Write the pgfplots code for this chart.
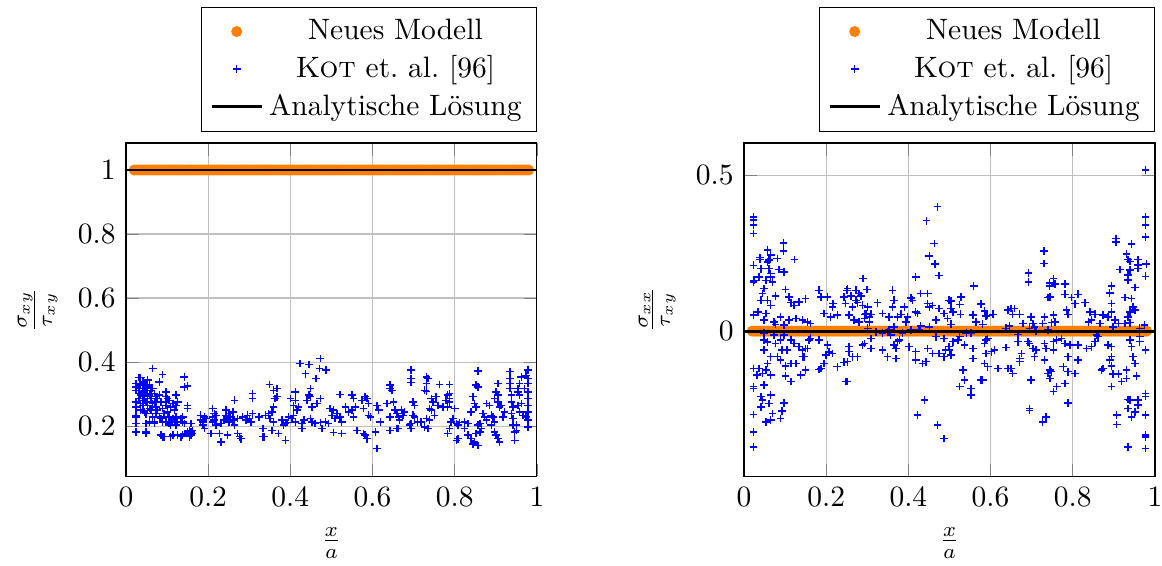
\documentclass[border=0pt]{standalone}
\usepackage{pgfplots}
\pgfplotsset{compat=1.18}
\begin{document}
\begin{tikzpicture}
\pgfplotsset{
  myax/.style={
    scale only axis, width=139.3pt, height=112.9pt,
    xmin=0, xmax=1, enlargelimits=false,
    clip mode=individual,
    grid=major,
    xtick={0,0.2,0.4,0.6,0.8,1},
    xticklabels={0,0.2,0.4,0.6,0.8,1},
    xlabel={$\frac{x}{a}$},
    legend cell align=center,
    legend style={at={(1,1.033)}, anchor=south east, draw=black},
  },
  orangemk/.style={only marks, mark=*, mark size=1.65pt, color=orange},
  bluemk/.style={only marks, mark=+, mark size=1.3pt, color=blue, mark options={line width=0.5pt}},
}
\begin{axis}[myax, name=leftax, ymin=0.044, ymax=1.084,
  ytick={0.2,0.4,0.6,0.8,1}, yticklabels={0.2,0.4,0.6,0.8,1},
  ylabel={$\frac{\sigma_{xy}}{\tau_{xy}}$}]
\addplot[orangemk] coordinates {
(0.020,1)(0.025,1)(0.030,1)(0.035,1)(0.040,1)(0.045,1)(0.050,1)(0.055,1)(0.060,1)(0.065,1)(0.070,1)(0.075,1)(0.080,1)(0.085,1)(0.090,1)(0.095,1)(0.100,1)(0.105,1)(0.110,1)(0.115,1)
(0.120,1)(0.125,1)(0.130,1)(0.135,1)(0.140,1)(0.145,1)(0.150,1)(0.155,1)(0.160,1)(0.165,1)(0.170,1)(0.175,1)(0.180,1)(0.185,1)(0.190,1)(0.195,1)(0.200,1)(0.205,1)(0.210,1)(0.215,1)
(0.220,1)(0.225,1)(0.230,1)(0.235,1)(0.240,1)(0.245,1)(0.250,1)(0.255,1)(0.260,1)(0.265,1)(0.270,1)(0.275,1)(0.280,1)(0.285,1)(0.290,1)(0.295,1)(0.300,1)(0.305,1)(0.310,1)(0.315,1)
(0.320,1)(0.325,1)(0.330,1)(0.335,1)(0.340,1)(0.345,1)(0.350,1)(0.355,1)(0.360,1)(0.365,1)(0.370,1)(0.375,1)(0.380,1)(0.385,1)(0.390,1)(0.395,1)(0.400,1)(0.405,1)(0.410,1)(0.415,1)
(0.420,1)(0.425,1)(0.430,1)(0.435,1)(0.440,1)(0.445,1)(0.450,1)(0.455,1)(0.460,1)(0.465,1)(0.470,1)(0.475,1)(0.480,1)(0.485,1)(0.490,1)(0.495,1)(0.500,1)(0.505,1)(0.510,1)(0.515,1)
(0.520,1)(0.525,1)(0.530,1)(0.535,1)(0.540,1)(0.545,1)(0.550,1)(0.555,1)(0.560,1)(0.565,1)(0.570,1)(0.575,1)(0.580,1)(0.585,1)(0.590,1)(0.595,1)(0.600,1)(0.605,1)(0.610,1)(0.615,1)
(0.620,1)(0.625,1)(0.630,1)(0.635,1)(0.640,1)(0.645,1)(0.650,1)(0.655,1)(0.660,1)(0.665,1)(0.670,1)(0.675,1)(0.680,1)(0.685,1)(0.690,1)(0.695,1)(0.700,1)(0.705,1)(0.710,1)(0.715,1)
(0.720,1)(0.725,1)(0.730,1)(0.735,1)(0.740,1)(0.745,1)(0.750,1)(0.755,1)(0.760,1)(0.765,1)(0.770,1)(0.775,1)(0.780,1)(0.785,1)(0.790,1)(0.795,1)(0.800,1)(0.805,1)(0.810,1)(0.815,1)
(0.820,1)(0.825,1)(0.830,1)(0.835,1)(0.840,1)(0.845,1)(0.850,1)(0.855,1)(0.860,1)(0.865,1)(0.870,1)(0.875,1)(0.880,1)(0.885,1)(0.890,1)(0.895,1)(0.900,1)(0.905,1)(0.910,1)(0.915,1)
(0.920,1)(0.925,1)(0.930,1)(0.935,1)(0.940,1)(0.945,1)(0.950,1)(0.955,1)(0.960,1)(0.965,1)(0.970,1)(0.975,1)(0.980,1)
};
\addlegendentry{Neues Modell}
\addplot[bluemk] coordinates {
(0.024,0.333)(0.024,0.323)(0.024,0.312)(0.024,0.276)(0.024,0.260)(0.024,0.234)(0.024,0.229)(0.024,0.208)(0.024,0.182)
(0.032,0.352)(0.032,0.318)(0.032,0.302)(0.032,0.286)
(0.036,0.352)(0.036,0.328)(0.036,0.297)(0.036,0.271)(0.036,0.250)
(0.041,0.338)(0.041,0.312)(0.041,0.292)(0.041,0.265)
(0.045,0.333)(0.045,0.307)(0.045,0.281)(0.045,0.245)
(0.049,0.323)(0.049,0.302)(0.049,0.276)(0.049,0.239)(0.049,0.208)(0.049,0.182)(0.049,0.177)
(0.053,0.344)(0.053,0.318)(0.053,0.292)(0.053,0.265)
(0.057,0.328)(0.057,0.297)(0.057,0.255)(0.057,0.213)
(0.061,0.312)(0.061,0.286)(0.061,0.250)
(0.065,0.380)(0.065,0.318)(0.065,0.271)(0.065,0.229)
(0.069,0.302)(0.069,0.276)(0.069,0.213)(0.069,0.208)
(0.073,0.292)(0.073,0.260)(0.073,0.239)
(0.077,0.286)(0.077,0.250)
(0.081,0.338)(0.081,0.297)(0.081,0.229)
(0.085,0.276)(0.085,0.224)(0.085,0.172)
(0.089,0.361)(0.089,0.255)(0.089,0.213)(0.089,0.167)
(0.093,0.239)(0.093,0.167)
(0.097,0.307)(0.097,0.292)(0.097,0.276)(0.097,0.265)(0.097,0.213)
(0.101,0.286)(0.101,0.245)
(0.105,0.281)(0.105,0.229)(0.105,0.208)
(0.109,0.260)(0.109,0.213)(0.109,0.203)(0.109,0.167)
(0.114,0.271)(0.114,0.224)(0.114,0.172)
(0.118,0.250)(0.118,0.219)
(0.122,0.297)(0.122,0.265)(0.122,0.229)(0.122,0.203)
(0.126,0.276)(0.126,0.213)(0.126,0.172)
(0.134,0.224)(0.134,0.167)
(0.138,0.229)(0.138,0.213)(0.138,0.172)
(0.142,0.354)(0.142,0.323)(0.142,0.208)(0.142,0.177)
(0.150,0.326)(0.150,0.265)(0.150,0.255)(0.150,0.182)
(0.154,0.187)(0.154,0.177)(0.154,0.167)
(0.158,0.208)(0.158,0.182)(0.158,0.172)
(0.162,0.187)(0.162,0.177)
(0.182,0.234)(0.182,0.219)(0.187,0.213)(0.187,0.203)(0.191,0.229)(0.191,0.193)(0.195,0.224)
(0.207,0.177)(0.211,0.255)(0.211,0.229)(0.211,0.213)(0.215,0.219)(0.215,0.239)(0.219,0.234)(0.219,0.203)
(0.227,0.177)(0.231,0.151)(0.231,0.208)
(0.239,0.219)(0.243,0.250)(0.243,0.234)(0.247,0.224)(0.247,0.172)(0.251,0.213)(0.251,0.239)(0.255,0.229)(0.260,0.219)(0.260,0.245)(0.264,0.281)(0.264,0.203)
(0.272,0.177)(0.276,0.167)(0.280,0.161)(0.272,0.224)
(0.284,0.229)(0.292,0.219)(0.296,0.234)(0.300,0.224)(0.304,0.213)(0.308,0.239)(0.308,0.302)(0.308,0.286)
(0.324,0.229)(0.333,0.193)(0.333,0.167)
(0.423,0.396)(0.445,0.393)(0.473,0.411)(0.471,0.380)(0.487,0.375)(0.437,0.364)(0.462,0.349)
(0.349,0.330)
(0.367,0.318)(0.359,0.312)(0.363,0.286)(0.367,0.292)(0.359,0.260)(0.355,0.245)(0.347,0.239)(0.351,0.224)(0.359,0.213)
(0.339,0.234)(0.337,0.167)
(0.412,0.307)(0.412,0.281)(0.400,0.286)(0.408,0.265)(0.420,0.260)(0.416,0.250)(0.408,0.234)(0.396,0.229)(0.404,0.224)(0.412,0.213)
(0.449,0.318)(0.445,0.297)(0.449,0.292)(0.441,0.281)(0.453,0.260)(0.465,0.271)(0.473,0.286)
(0.380,0.219)(0.388,0.208)(0.392,0.211)(0.384,0.203)
(0.355,0.187)(0.371,0.177)(0.388,0.156)
(0.428,0.208)(0.433,0.219)(0.428,0.193)(0.449,0.224)(0.453,0.213)(0.460,0.208)(0.473,0.211)(0.477,0.193)(0.485,0.213)(0.493,0.208)
(0.497,0.255)(0.505,0.250)(0.501,0.234)(0.509,0.224)(0.513,0.239)(0.521,0.229)(0.525,0.213)(0.521,0.299)
(0.505,0.180)(0.525,0.177)(0.534,0.260)(0.542,0.245)(0.550,0.250)(0.554,0.286)(0.550,0.297)(0.558,0.260)(0.554,0.229)(0.562,0.187)
(0.574,0.281)(0.578,0.255)(0.582,0.292)(0.586,0.286)(0.590,0.271)(0.590,0.234)(0.595,0.229)(0.578,0.177)(0.582,0.172)(0.586,0.161)
(0.611,0.265)(0.615,0.250)(0.607,0.182)(0.611,0.130)(0.619,0.213)
(0.635,0.271)(0.643,0.328)(0.643,0.318)(0.647,0.312)(0.651,0.276)(0.643,0.229)(0.655,0.250)(0.659,0.239)(0.663,0.229)(0.643,0.187)(0.659,0.193)
(0.694,0.375)(0.694,0.349)(0.694,0.336)
(0.731,0.354)(0.735,0.349)(0.731,0.333)(0.727,0.312)(0.731,0.309)
(0.763,0.330)(0.787,0.330)
(0.787,0.302)(0.783,0.297)(0.787,0.286)(0.779,0.281)(0.783,0.260)(0.787,0.276)
(0.743,0.286)(0.747,0.276)(0.739,0.255)(0.743,0.250)(0.751,0.234)(0.759,0.265)(0.771,0.260)(0.755,0.292)
(0.698,0.276)(0.702,0.265)(0.698,0.234)(0.702,0.229)(0.694,0.208)(0.690,0.203)(0.694,0.193)
(0.670,0.250)(0.674,0.234)(0.678,0.245)(0.666,0.219)(0.662,0.193)
(0.710,0.213)(0.718,0.213)(0.727,0.198)(0.735,0.193)(0.739,0.219)(0.731,0.224)
(0.800,0.255)(0.796,0.224)(0.791,0.213)(0.787,0.193)(0.783,0.177)(0.804,0.208)(0.808,0.203)(0.812,0.211)(0.824,0.213)(0.832,0.208)(0.824,0.193)
(0.808,0.161)(0.804,0.156)(0.832,0.172)(0.840,0.161)(0.848,0.151)(0.857,0.140)(0.844,0.144)
(0.844,0.292)(0.848,0.271)(0.852,0.260)(0.840,0.245)(0.852,0.328)(0.857,0.323)(0.857,0.372)
(0.857,0.203)(0.861,0.208)(0.865,0.193)(0.861,0.182)(0.852,0.177)(0.877,0.271)(0.885,0.265)(0.869,0.239)(0.873,0.229)
(0.877,0.219)(0.889,0.234)(0.893,0.229)(0.897,0.213)(0.889,0.203)(0.897,0.182)(0.901,0.172)(0.905,0.161)(0.909,0.151)
(0.905,0.333)(0.901,0.307)(0.905,0.297)(0.897,0.286)(0.905,0.276)(0.909,0.260)(0.913,0.265)(0.921,0.245)(0.917,0.229)
(0.934,0.370)(0.934,0.349)(0.934,0.333)(0.934,0.318)(0.938,0.297)(0.938,0.276)(0.942,0.260)(0.938,0.239)(0.942,0.224)(0.942,0.203)(0.946,0.182)(0.946,0.156)
(0.954,0.307)(0.958,0.297)(0.954,0.265)(0.958,0.245)(0.962,0.271)(0.962,0.354)(0.950,0.203)(0.950,0.187)
(0.978,0.375)(0.978,0.349)(0.978,0.333)(0.978,0.307)(0.978,0.286)(0.978,0.265)(0.978,0.245)(0.978,0.219)(0.978,0.198)(0.974,0.229)(0.974,0.359)(0.970,0.318)
(0.954,0.318)(0.958,0.333)(0.966,0.234)
};
\addlegendentry{\textsc{Kot} et.\ al.\ [96]}
\addplot[black, line width=1pt] coordinates {(0,1) (1,1)};
\addlegendentry{Analytische Lösung}
\end{axis}
\begin{axis}[myax, name=rightax, at={(209.5pt,0pt)}, ymin=-0.465, ymax=0.603,
  ytick={0,0.5}, yticklabels={0,0.5},
  ylabel={$\frac{\sigma_{xx}}{\tau_{xy}}$}]
\addplot[orangemk] coordinates {
(0.020,0)(0.025,0)(0.030,0)(0.035,0)(0.040,0)(0.045,0)(0.050,0)(0.055,0)(0.060,0)(0.065,0)(0.070,0)(0.075,0)(0.080,0)(0.085,0)(0.090,0)(0.095,0)(0.100,0)(0.105,0)(0.110,0)(0.115,0)
(0.120,0)(0.125,0)(0.130,0)(0.135,0)(0.140,0)(0.145,0)(0.150,0)(0.155,0)(0.160,0)(0.165,0)(0.170,0)(0.175,0)(0.180,0)(0.185,0)(0.190,0)(0.195,0)(0.200,0)(0.205,0)(0.210,0)(0.215,0)
(0.220,0)(0.225,0)(0.230,0)(0.235,0)(0.240,0)(0.245,0)(0.250,0)(0.255,0)(0.260,0)(0.265,0)(0.270,0)(0.275,0)(0.280,0)(0.285,0)(0.290,0)(0.295,0)(0.300,0)(0.305,0)(0.310,0)(0.315,0)
(0.320,0)(0.325,0)(0.330,0)(0.335,0)(0.340,0)(0.345,0)(0.350,0)(0.355,0)(0.360,0)(0.365,0)(0.370,0)(0.375,0)(0.380,0)(0.385,0)(0.390,0)(0.395,0)(0.400,0)(0.405,0)(0.410,0)(0.415,0)
(0.420,0)(0.425,0)(0.430,0)(0.435,0)(0.440,0)(0.445,0)(0.450,0)(0.455,0)(0.460,0)(0.465,0)(0.470,0)(0.475,0)(0.480,0)(0.485,0)(0.490,0)(0.495,0)(0.500,0)(0.505,0)(0.510,0)(0.515,0)
(0.520,0)(0.525,0)(0.530,0)(0.535,0)(0.540,0)(0.545,0)(0.550,0)(0.555,0)(0.560,0)(0.565,0)(0.570,0)(0.575,0)(0.580,0)(0.585,0)(0.590,0)(0.595,0)(0.600,0)(0.605,0)(0.610,0)(0.615,0)
(0.620,0)(0.625,0)(0.630,0)(0.635,0)(0.640,0)(0.645,0)(0.650,0)(0.655,0)(0.660,0)(0.665,0)(0.670,0)(0.675,0)(0.680,0)(0.685,0)(0.690,0)(0.695,0)(0.700,0)(0.705,0)(0.710,0)(0.715,0)
(0.720,0)(0.725,0)(0.730,0)(0.735,0)(0.740,0)(0.745,0)(0.750,0)(0.755,0)(0.760,0)(0.765,0)(0.770,0)(0.775,0)(0.780,0)(0.785,0)(0.790,0)(0.795,0)(0.800,0)(0.805,0)(0.810,0)(0.815,0)
(0.820,0)(0.825,0)(0.830,0)(0.835,0)(0.840,0)(0.845,0)(0.850,0)(0.855,0)(0.860,0)(0.865,0)(0.870,0)(0.875,0)(0.880,0)(0.885,0)(0.890,0)(0.895,0)(0.900,0)(0.905,0)(0.910,0)(0.915,0)
(0.920,0)(0.925,0)(0.930,0)(0.935,0)(0.940,0)(0.945,0)(0.950,0)(0.955,0)(0.960,0)(0.965,0)(0.970,0)(0.975,0)(0.980,0)
};
\addlegendentry{Neues Modell}
\addplot[bluemk] coordinates {
(0.023,0.366)(0.023,0.356)(0.023,0.340)(0.023,0.313)
(0.096,0.283)(0.096,0.257)
(0.057,0.260)(0.065,0.244)(0.039,0.236)(0.039,0.230)(0.061,0.228)(0.081,0.233)(0.123,0.230)
(0.023,0.211)(0.041,0.200)(0.057,0.221)(0.061,0.200)(0.065,0.185)(0.085,0.198)(0.097,0.190)(0.065,0.174)(0.036,0.174)(0.024,0.163)(0.023,0.158)(0.053,0.163)(0.069,0.158)
(0.049,0.137)(0.045,0.121)(0.041,0.099)(0.057,0.099)(0.077,0.112)(0.101,0.133)(0.109,0.110)(0.114,0.091)(0.122,0.083)(0.134,0.094)(0.150,0.104)
(0.023,0.051)(0.034,0.062)(0.065,0.083)(0.053,0.057)(0.049,0.035)(0.073,0.030)(0.077,0.022)(0.089,0.046)(0.097,0.019)(0.109,0.035)
(0.126,0.040)(0.142,0.035)(0.154,0.030)(0.162,0.025)(0.182,0.131)(0.187,0.110)(0.203,0.110)(0.217,0.089)(0.215,0.078)(0.195,0.057)(0.211,0.046)(0.227,0.051)(0.243,0.110)(0.251,0.131)(0.247,0.089)
(0.049,-0.007)(0.049,-0.029)(0.049,-0.061)(0.057,-0.035)(0.073,-0.013)(0.077,-0.040)(0.089,-0.029)(0.093,-0.061)(0.097,-0.013)(0.105,-0.061)(0.114,-0.029)(0.122,-0.040)(0.134,-0.050)(0.142,-0.061)(0.150,-0.056)(0.158,-0.029)(0.162,-0.023)(0.182,-0.029)
(0.203,-0.045)(0.207,-0.067)(0.215,-0.072)(0.199,-0.077)(0.195,-0.104)(0.187,-0.120)(0.154,-0.056)(0.146,-0.082)(0.142,-0.082)(0.126,-0.104)(0.114,-0.104)(0.101,-0.112)(0.089,-0.093)(0.081,-0.082)(0.065,-0.082)(0.057,-0.104)(0.053,-0.125)(0.045,-0.136)(0.036,-0.120)(0.023,-0.120)(0.023,-0.178)(0.023,-0.184)(0.032,-0.141)(0.049,-0.173)(0.065,-0.141)(0.101,-0.144)(0.114,-0.162)(0.138,-0.141)(0.150,-0.125)(0.182,-0.123)(0.227,-0.114)(0.243,-0.100)(0.251,-0.162)
(0.041,-0.210)(0.045,-0.221)(0.065,-0.205)(0.061,-0.232)(0.041,-0.243)(0.097,-0.230)(0.093,-0.256)(0.089,-0.280)(0.053,-0.291)(0.065,-0.285)(0.069,-0.264)(0.023,-0.267)(0.023,-0.323)(0.023,-0.371)
(0.471,0.399)(0.444,0.354)(0.463,0.281)(0.451,0.241)(0.465,0.215)(0.474,0.178)(0.418,0.173)(0.290,0.169)
(0.252,0.137)(0.272,0.131)(0.280,0.121)(0.285,0.112)(0.299,0.134)(0.260,0.112)(0.272,0.099)(0.276,0.091)(0.288,0.083)(0.301,0.078)(0.309,0.054)(0.293,0.054)(0.325,0.091)(0.297,0.057)(0.264,0.078)(0.256,0.051)(0.268,0.035)(0.280,0.030)(0.293,0.041)(0.305,0.046)
(0.337,0.057)(0.353,0.046)(0.361,0.078)(0.365,0.099)(0.361,0.131)(0.374,0.046)(0.382,0.054)(0.390,0.078)(0.394,0.030)(0.398,0.046)(0.406,0.107)(0.410,0.099)(0.418,0.062)(0.422,0.057)(0.430,0.121)(0.447,0.121)(0.447,0.089)(0.451,0.078)(0.459,0.082)(0.475,0.073)(0.487,0.057)(0.499,0.099)(0.495,0.041)(0.467,0.035)(0.451,0.014)(0.430,0.016)(0.426,0.005)(0.406,0.003)(0.386,-0.007)(0.365,0.014)(0.353,0.003)(0.357,-0.013)(0.349,-0.002)(0.337,-0.007)(0.321,-0.002)(0.301,0.009)(0.305,0.030)
(0.309,-0.024)(0.293,-0.040)(0.288,-0.045)(0.309,-0.056)(0.256,-0.050)(0.256,-0.066)(0.264,-0.082)(0.252,-0.098)(0.276,-0.082)(0.337,-0.061)(0.349,-0.082)(0.370,-0.088)(0.370,-0.056)(0.374,-0.034)(0.378,-0.029)(0.365,-0.045)(0.402,-0.050)(0.418,-0.066)(0.418,-0.093)(0.435,-0.104)(0.443,-0.098)(0.447,-0.056)(0.459,-0.072)(0.475,-0.072)(0.487,-0.082)(0.491,-0.061)(0.499,-0.050)(0.467,-0.018)(0.487,-0.024)
(0.248,-0.162)(0.439,-0.221)(0.422,-0.269)(0.471,-0.301)(0.487,-0.344)
(0.730,0.257)(0.730,0.217)(0.692,0.187)(0.692,0.158)(0.744,0.155)(0.744,0.144)(0.740,0.108)(0.559,0.144)
(0.504,0.097)(0.504,0.073)(0.509,0.062)(0.528,0.110)(0.525,0.085)(0.527,0.054)(0.504,0.022)
(0.557,0.051)(0.565,0.030)(0.577,0.087)(0.585,0.065)(0.589,0.048)(0.593,0.050)(0.606,0.054)(0.581,0.022)
(0.642,0.067)(0.650,0.073)(0.658,0.073)(0.654,0.054)(0.671,0.054)(0.638,0.009)(0.646,0.016)(0.667,-0.010)(0.679,0.025)(0.699,0.046)(0.703,0.025)(0.695,0.009)(0.707,0.014)(0.711,0.001)(0.731,0.046)(0.727,0.025)(0.740,0.003)(0.748,0.027)
(0.500,-0.061)(0.504,-0.077)(0.509,-0.034)(0.521,-0.029)(0.525,-0.018)(0.537,-0.045)(0.541,-0.007)(0.553,-0.007)(0.557,-0.056)(0.557,-0.088)(0.585,-0.040)(0.589,-0.029)(0.593,-0.024)(0.602,-0.066)(0.610,-0.061)(0.585,-0.104)(0.589,-0.072)(0.593,-0.114)(0.618,-0.120)(0.638,-0.052)(0.642,-0.120)(0.650,-0.120)(0.654,-0.136)(0.667,-0.034)(0.671,-0.088)(0.675,-0.072)(0.671,-0.098)(0.691,-0.034)(0.695,-0.040)(0.703,-0.056)(0.711,-0.061)(0.707,-0.082)(0.731,-0.040)(0.735,-0.056)(0.731,-0.093)(0.740,-0.136)(0.744,-0.152)(0.748,-0.130)(0.699,-0.157)(0.577,-0.157)(0.581,-0.157)(0.533,-0.125)(0.537,-0.157)(0.525,-0.178)(0.553,-0.184)(0.553,-0.205)(0.695,-0.248)(0.695,-0.255)(0.735,-0.275)(0.727,-0.291)
(0.977,0.516)(0.977,0.366)(0.977,0.340)(0.977,0.302)
(0.905,0.297)(0.905,0.286)(0.943,0.279)
(0.931,0.247)(0.935,0.230)(0.939,0.223)(0.959,0.230)(0.959,0.212)(0.959,0.201)(0.979,0.215)(0.939,0.196)(0.935,0.180)(0.935,0.164)(0.915,0.198)(0.951,0.140)(0.977,0.176)
(0.753,0.169)(0.757,0.151)(0.781,0.151)(0.781,0.118)(0.797,0.108)(0.813,0.118)(0.805,0.088)(0.785,0.067)(0.789,0.054)(0.753,0.051)(0.757,0.030)(0.745,0.110)
(0.830,0.091)(0.842,0.062)(0.854,0.054)(0.874,0.051)(0.838,0.030)(0.846,0.035)(0.866,0.025)(0.894,0.144)(0.890,0.123)(0.894,0.089)(0.894,0.062)(0.886,0.046)(0.903,0.035)(0.911,0.025)(0.898,0.014)(0.927,0.108)(0.943,0.105)(0.947,0.078)(0.939,0.062)(0.935,0.046)(0.939,0.027)(0.951,0.067)(0.927,0.025)(0.963,0.009)(0.975,0.019)
(0.753,-0.034)(0.753,-0.061)(0.761,-0.029)(0.773,-0.024)(0.781,-0.040)(0.789,-0.082)(0.793,-0.045)(0.813,-0.045)(0.777,-0.114)(0.789,-0.130)(0.805,-0.136)(0.813,-0.093)(0.745,-0.125)(0.745,-0.152)(0.761,-0.178)(0.753,-0.194)(0.781,-0.168)(0.789,-0.230)(0.834,-0.056)(0.846,-0.050)(0.858,-0.013)(0.862,-0.018)(0.854,-0.034)(0.870,-0.125)(0.874,-0.120)(0.886,-0.045)(0.894,-0.050)(0.894,-0.082)(0.890,-0.093)(0.894,-0.112)(0.898,-0.138)(0.894,-0.178)(0.911,-0.138)(0.919,-0.162)(0.931,-0.125)(0.931,-0.152)(0.939,-0.029)(0.943,-0.050)(0.947,-0.082)(0.951,-0.104)(0.955,-0.144)(0.963,-0.034)(0.963,-0.018)(0.977,-0.061)(0.935,-0.219)(0.939,-0.221)(0.959,-0.221)(0.959,-0.237)(0.977,-0.200)(0.977,-0.210)(0.935,-0.248)(0.943,-0.275)(0.951,-0.259)(0.977,-0.269)(0.907,-0.269)(0.907,-0.299)(0.977,-0.333)(0.977,-0.339)(0.935,-0.371)(0.977,-0.376)
};
\addlegendentry{\textsc{Kot} et.\ al.\ [96]}
\addplot[black, line width=1pt] coordinates {(0,0) (1,0)};
\addlegendentry{Analytische Lösung}
\end{axis}
\pgfresetboundingbox
\path ([xshift=-42.7pt, yshift=-30.2pt]leftax.south west) rectangle ([xshift=2.4pt, yshift=48.5pt]rightax.north east);
\end{tikzpicture}
\end{document}
